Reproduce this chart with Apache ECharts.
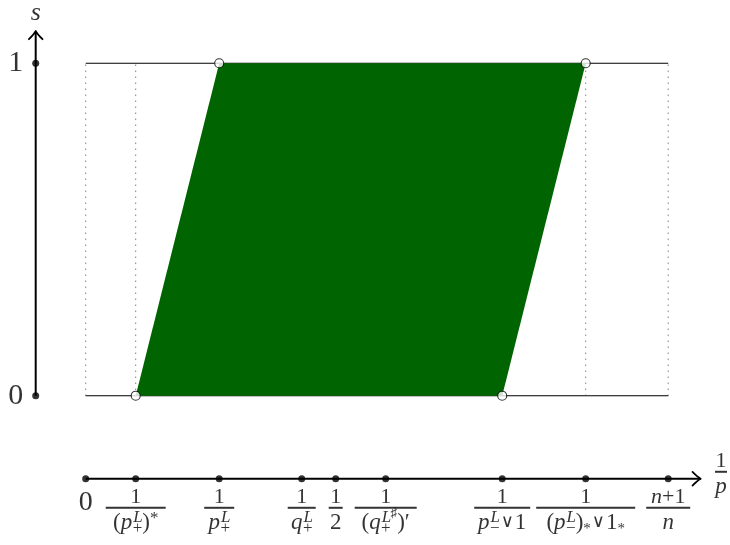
<!DOCTYPE html>
<html>
<head>
<meta charset="utf-8">
<script src="https://cdn.jsdelivr.net/npm/echarts@6/dist/echarts.min.js"></script>
<style>
html,body{margin:0;padding:0;background:#fff}
#chart{width:730px;height:545px}
</style>
</head>
<body>
<div id="chart"></div>
<script>
// ---------------- data ----------------
// positions of the marked points on the 1/p axis
const tickValues = [0, 0.1, 0.267, 0.432, 0.5, 0.6, 0.833, 1.0, 1.165];
// tick labels (rich-text markup: numerator \n fraction bar \n denominator)
const tickLabels = [
  '{zero|0}',
  '{n|1}\n{b1| }\n{m|(}{mi|p}{sp|L}{st|+}{m|)}{sps|*}',
  '{n|1}\n{b2| }\n{mi|p}{sp|L}{st|+}',
  '{n|1}\n{b3| }\n{mi|q}{sp|L}{st|+}',
  '{n|1}\n{b4| }\n{m|2}',
  '{n|1}\n{b5| }\n{m|(}{mi|q}{sp|L}{st|+}{sp2|♯}{m|)′}',
  '{n|1}\n{b6| }\n{mi|p}{sp|L}{st|−}{op|∨}{m|1}',
  '{n|1}\n{b7| }\n{m|(}{mi|p}{sp|L}{st|−}{m|)}{sbs|*}{op|∨}{m|1}{sbs|*}',
  '{ni|n}{n|+1}\n{b8| }\n{mi|n}'
];
// s levels and their labels
const sLevels = [0, 1];
const sLabels = ['0', '1'];
// shaded region: edge at s=0 and edge at s=1 (in 1/p)
const lowerEdge = [0.1, 0.833];
const upperEdge = [0.267, 1.0];
// dotted vertical guides
const dottedAt = [0, 0.1, 1.0, 1.165];
// axis names
const xAxisName = '{n|1}\n{bp| }\n{mi|p}';
const yAxisName = 's';

// ---------------- layout / style ----------------
const FONT = "'Liberation Serif','DejaVu Serif',serif";
const GREEN = '#006400';
const yAxisX = -0.1;        // horizontal position of the s axis
const numberLineS = -0.25;  // vertical position of the 1/p number line
const yArrowTop = 1.095;
const xArrowEnd = 1.2286;
const barWidths = {b1: 60, b2: 30, b3: 28, b4: 14, b5: 62, b6: 56, b7: 99, b8: 44, bp: 12};

const rich = {
  zero: {fontFamily: FONT, fontSize: 28, lineHeight: 32, color: '#000'},
  n:   {fontFamily: FONT, fontSize: 22, lineHeight: 20, color: '#000'},
  ni:  {fontFamily: FONT, fontSize: 22, lineHeight: 20, color: '#000', fontStyle: 'italic'},
  m:   {fontFamily: FONT, fontSize: 23, lineHeight: 28, color: '#000'},
  mi:  {fontFamily: FONT, fontSize: 23, lineHeight: 28, color: '#000', fontStyle: 'italic'},
  op:  {fontFamily: "'DejaVu Sans',sans-serif", fontSize: 18, lineHeight: 28, color: '#000', padding: [0, 1, 0, 1]},
  sp:  {fontFamily: FONT, fontSize: 17, lineHeight: 28, color: '#000', fontStyle: 'italic', padding: [0, 0, 10, 1]},
  st:  {fontFamily: FONT, fontSize: 17, lineHeight: 28, color: '#000', padding: [12, 0, 0, -10]},
  sp2: {fontFamily: FONT, fontSize: 13, lineHeight: 28, color: '#000', padding: [0, 0, 18, 0]},
  sps: {fontFamily: FONT, fontSize: 17, lineHeight: 28, color: '#000', padding: [0, 0, 8, 0]},
  sbs: {fontFamily: FONT, fontSize: 15, lineHeight: 28, color: '#000', padding: [12, 0, 0, 0]}
};
Object.keys(barWidths).forEach(k => {
  rich[k] = {width: barWidths[k], height: 2, lineHeight: 2, backgroundColor: '#000', fontSize: 1};
});

const chart = echarts.init(document.getElementById('chart'), null, {renderer: 'canvas'});

const lineSeries = (data, style, z) => ({
  type: 'line', data, symbol: 'none', silent: true, z,
  lineStyle: style, animation: false
});

const series = [];
// horizontal lines at s = 0 and s = 1
sLevels.forEach(s => series.push(lineSeries([[tickValues[0], s], [tickValues[tickValues.length - 1], s]],
  {color: '#000', width: 1.1}, 1)));
// dotted verticals
dottedAt.forEach(v => series.push(lineSeries([[v, sLevels[0]], [v, sLevels[1]]],
  {color: '#444', width: 1, type: [1, 5]}, 1)));
// s axis and number line
series.push(lineSeries([[yAxisX, sLevels[0]], [yAxisX, yArrowTop]], {color: '#000', width: 2}, 2));
series.push(lineSeries([[tickValues[0], numberLineS], [xArrowEnd, numberLineS]], {color: '#000', width: 2}, 2));

// shaded parallelogram
series.push({
  type: 'custom', z: 3, silent: true, animation: false,
  data: [[lowerEdge[0], sLevels[0], upperEdge[0], sLevels[1], upperEdge[1], sLevels[1], lowerEdge[1], sLevels[0]]],
  renderItem(params, api) {
    const pts = [];
    for (let i = 0; i < 8; i += 2) pts.push(api.coord([api.value(i), api.value(i + 1)]));
    return {type: 'polygon', shape: {points: pts}, style: {fill: GREEN, stroke: null}};
  }
});

// arrow heads
series.push({
  type: 'custom', z: 4, silent: true, animation: false,
  data: [[yAxisX, yArrowTop, 90], [xArrowEnd, numberLineS, 0]],
  renderItem(params, api) {
    const tip = api.coord([api.value(0), api.value(1)]);
    const a = api.value(2) * Math.PI / 180;
    const d = [Math.cos(a), -Math.sin(a)];
    const nrm = [-d[1], d[0]];
    const arm = (sgn) => ({
      type: 'bezierCurve',
      shape: {
        x1: tip[0] - 7.5 * d[0] + sgn * 6.8 * nrm[0], y1: tip[1] - 7.5 * d[1] + sgn * 6.8 * nrm[1],
        cpx1: tip[0] - 2.5 * d[0] + sgn * 1.8 * nrm[0], cpy1: tip[1] - 2.5 * d[1] + sgn * 1.8 * nrm[1],
        x2: tip[0] + 0.5 * d[0], y2: tip[1] + 0.5 * d[1]
      },
      style: {stroke: '#000', lineWidth: 1.8, fill: null, lineCap: 'round'}
    });
    return {type: 'group', children: [arm(1), arm(-1)]};
  }
});

// dots on the number line with fraction labels
series.push({
  type: 'scatter', z: 5, silent: true, animation: false,
  symbol: 'circle', symbolSize: 7, itemStyle: {color: '#000'},
  data: tickValues.map((v, i) => ({value: [v, numberLineS], label: {formatter: tickLabels[i]}})),
  label: {show: true, position: 'bottom', distance: 4.5, align: 'center', rich}
});

// dots on the s axis
series.push({
  type: 'scatter', z: 5, silent: true, animation: false,
  symbol: 'circle', symbolSize: 7, itemStyle: {color: '#000'},
  data: sLevels.map((s, i) => ({value: [yAxisX, s], label: {formatter: sLabels[i]}})),
  label: {show: true, position: 'left', distance: 9, fontFamily: FONT, fontSize: 30, color: '#000'}
});

// open circles at the corners
series.push({
  type: 'scatter', z: 6, silent: true, animation: false,
  symbol: 'circle', symbolSize: 9,
  itemStyle: {color: '#fff', borderColor: '#000', borderWidth: 1.1},
  data: [[lowerEdge[0], sLevels[0]], [upperEdge[0], sLevels[1]], [upperEdge[1], sLevels[1]], [lowerEdge[1], sLevels[0]]]
});

// axis names
series.push({
  type: 'scatter', z: 6, silent: true, animation: false, symbolSize: 0,
  data: [
    {value: [xArrowEnd, numberLineS], label: {show: true, formatter: xAxisName, position: 'right', distance: 21, align: 'center', offset: [0, -3], rich}},
    {value: [yAxisX, yArrowTop], label: {show: true, formatter: yAxisName, position: 'top', distance: 6,
      fontFamily: FONT, fontSize: 26, fontStyle: 'italic', color: '#000', lineHeight: 26}}
  ]
});

chart.setOption({
  animation: false,
  backgroundColor: '#fff',
  grid: {left: 0, right: 0, top: 0, bottom: 0},
  xAxis: {type: 'value', min: -0.1714, max: 1.2886, show: false},
  yAxis: {type: 'value', min: -0.4492, max: 1.1904, show: false},
  series
});
</script>
</body>
</html>
